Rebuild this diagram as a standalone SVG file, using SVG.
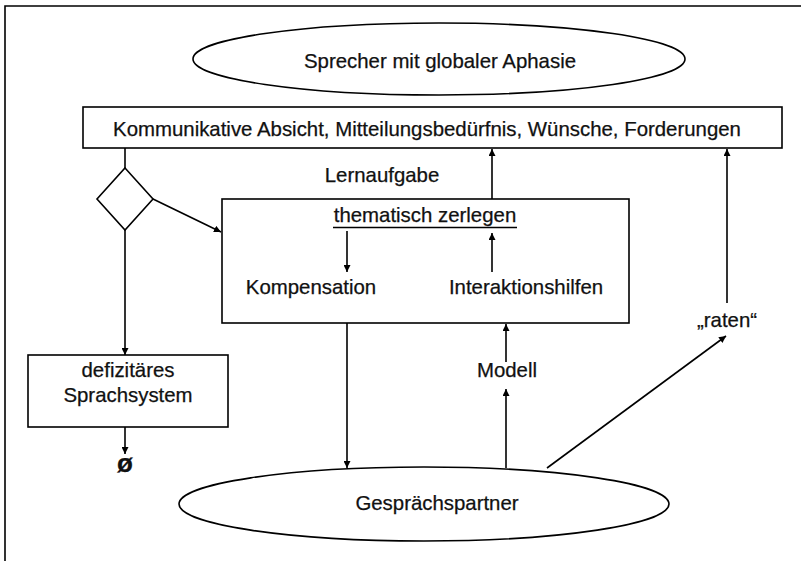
<svg xmlns="http://www.w3.org/2000/svg" width="801" height="561" viewBox="0 0 801 561">
<defs>
<style>
.s{fill:none;stroke:#000;stroke-width:1.6}
.n{fill:#fff;stroke:#000;stroke-width:1.6}
.t{font-family:"Liberation Sans",Arial,sans-serif;font-size:20.4px;fill:#111;text-anchor:middle;stroke:#111;stroke-width:0.25}
</style>
<marker id="a" viewBox="0 0 10 10" refX="10" refY="5" markerWidth="7" markerHeight="7" markerUnits="userSpaceOnUse" orient="auto">
<path d="M0,0 L10,5 L0,10 z" fill="#000"/>
</marker>
</defs>
<rect width="801" height="561" fill="#fff"/>
<path class="s" d="M5,561 V6 H801"/>
<g id="sprecher">
<ellipse class="n" cx="439" cy="59" rx="246" ry="36"/>
<text class="t" x="440" y="68">Sprecher mit globaler Aphasie</text>
</g>
<g id="absicht">
<rect class="n" x="83" y="107" width="699" height="41"/>
<text class="t" x="427" y="136">Kommunikative Absicht, Mitteilungsbedürfnis, Wünsche, Forderungen</text>
</g>
<g id="entscheidung">
<path class="n" d="M125,168 L153,199 L125,230 L97,199 z"/>
</g>
<g id="lernaufgabe-label">
<text class="t" x="382" y="182">Lernaufgabe</text>
</g>
<g id="lernaufgabe">
<rect class="n" x="222" y="199" width="407" height="124"/>
<text class="t" x="425" y="222">thematisch zerlegen</text>
<path class="s" d="M333,227.5 H517" stroke-width="1.3"/>
<text class="t" x="311" y="294">Kompensation</text>
<text class="t" x="526" y="294">Interaktionshilfen</text>
</g>
<g id="defizit">
<rect class="n" x="28" y="355" width="200" height="72"/>
<text class="t" x="128" y="377">defizitäres</text>
<text class="t" x="128" y="402">Sprachsystem</text>
</g>
<g id="null">
<text class="t" x="125" y="472" style="font-weight:bold;font-size:26px">ø</text>
</g>
<g id="modell">
<text class="t" x="507" y="377">Modell</text>
</g>
<g id="raten">
<text class="t" x="727" y="327">„raten“</text>
</g>
<g id="partner">
<ellipse class="n" cx="424" cy="504" rx="245" ry="37"/>
<text class="t" x="437" y="510">Gesprächspartner</text>
</g>
<g id="connectors">
<path class="s" d="M125,148 V168"/>
<path class="s" d="M153,199 L221,232" marker-end="url(#a)"/>
<path class="s" d="M125,230 V355" marker-end="url(#a)"/>
<path class="s" d="M125,427 V454" marker-end="url(#a)"/>
<path class="s" d="M492,199 V149" marker-end="url(#a)"/>
<path class="s" d="M347,231 V272" marker-end="url(#a)"/>
<path class="s" d="M492,272 V233" marker-end="url(#a)"/>
<path class="s" d="M347,323 V468" marker-end="url(#a)"/>
<path class="s" d="M506,468 V389" marker-end="url(#a)"/>
<path class="s" d="M506,362 V324" marker-end="url(#a)"/>
<path class="s" d="M727,303 V149" marker-end="url(#a)"/>
<path class="s" d="M547,468 L726,336" marker-end="url(#a)"/>
</g>
</svg>
